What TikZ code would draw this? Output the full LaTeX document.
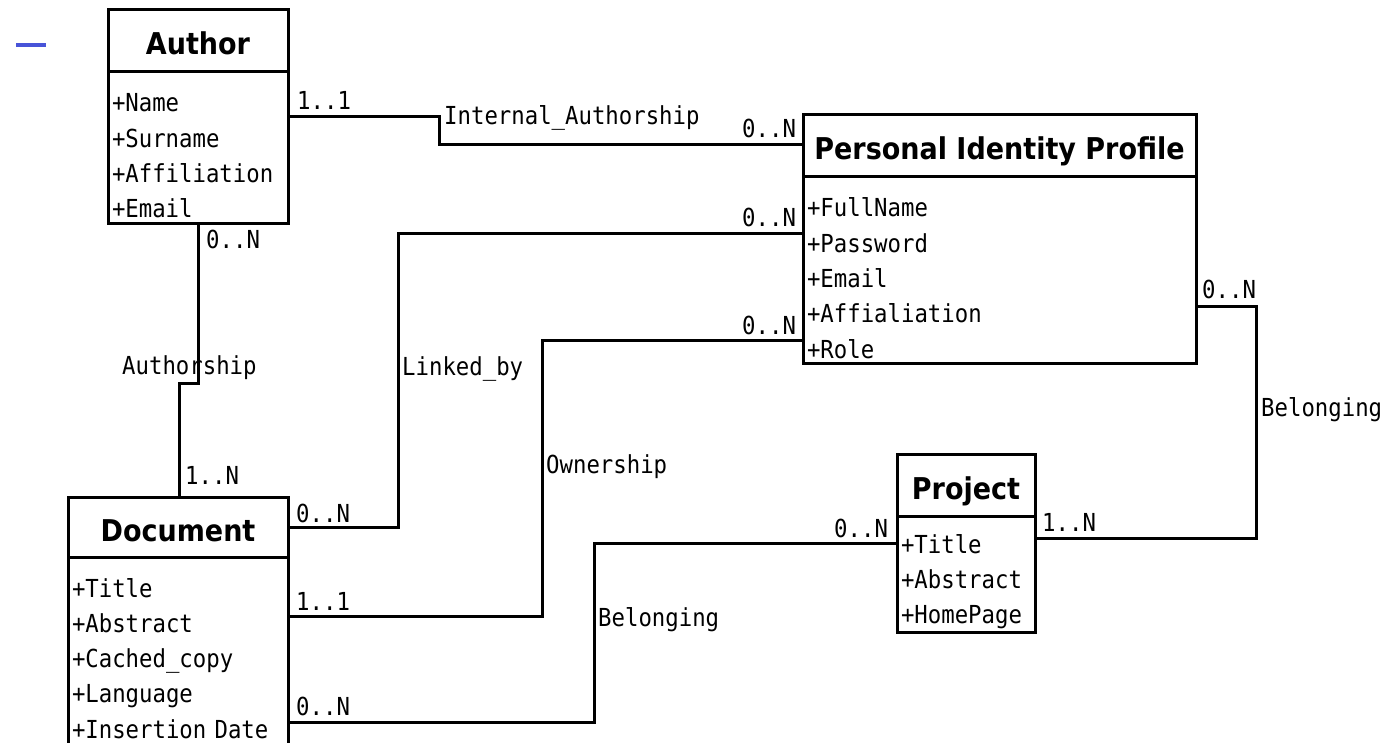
\documentclass[tikz,border=0pt]{standalone}
\usepackage{fontspec}
\setmainfont[FakeStretch=0.9]{DejaVu Sans}
\setmonofont[FakeStretch=0.9]{DejaVu Sans Mono}
\usetikzlibrary{positioning}
\definecolor{markblue}{RGB}{72,84,216}

\begin{document}
\begin{tikzpicture}[
    x=1pt, y=-1pt,
    node distance=0pt,
    cname/.style={
      draw,
      line width=3pt,
      outer sep=0pt,
      inner sep=0pt,
      anchor=north west,
      minimum height=62pt,
      text height=28pt,
      text depth=0pt,
      font=\fontsize{30}{34}\selectfont\bfseries
    },
    cattr/.style={
      draw,
      line width=3pt,
      outer sep=0pt,
      inner xsep=4pt,
      inner ysep=0pt,
      align=left,
      text height=40pt,
      font=\fontsize{24.8}{35.3}\selectfont\ttfamily
    },
    rel/.style={draw, line width=3pt},
    lbl/.style={
      anchor=base west,
      inner sep=0pt,
      font=\fontsize{24.8}{28}\selectfont\ttfamily
    }]

    \useasboundingbox (0,0) rectangle (1396,743);

    % Stray mark in the corner.
    \draw[markblue, line width=3.5pt] (16,45) -- (46,45);

    % Draw the classes.
    \node[cname, minimum width=180pt] (author) at (108,10) {Author};
    \node[cattr, below=of author, text width=172pt, text depth=112pt]
      (authorattr) {+Name\\+Surname\\+Affiliation\\+Email};

    \node[cname, minimum width=220pt, minimum height=60pt] (document)
      at (68,497) {Document};
    \node[cattr, below=of document, text width=212pt, text depth=148pt]
      (documentattr)
      {+Title\\+Abstract\\+Cached\_copy\\+Language\\+Insertion Date};

    \node[cname, minimum width=393pt] (pip) at (803,115)
      {Personal Identity Profile};
    \node[cattr, below=of pip, text width=385pt, text depth=146pt]
      (pipattr)
      {+FullName\\+Password\\+Email\\+Affialiation\\+Role};

    \node[cname, minimum width=138pt] (project) at (897,454) {Project};
    \node[cattr, below=of project, text width=130pt, text height=37pt,
      text depth=79pt] (projectattr) {+Title\\+Abstract\\+HomePage};

    % Draw the relations.
    \draw[rel] ([yshift=-45pt] authorattr.north east) -- ++(151,0)
      |- ([yshift=-30pt] pip.north west);
    \draw[rel] ([xshift=90pt] authorattr.south west) -- ++(0,159)
      -| ([xshift=111pt] document.north west);
    \draw[rel] ([yshift=-30pt] document.north east) -- ++(110,0)
      |- ([yshift=-57pt] pipattr.north west);
    \draw[rel] ([yshift=-59pt] documentattr.north east) -- ++(254,0)
      |- ([yshift=-163pt] pipattr.north west);
    \draw[rel] ([yshift=-165pt] documentattr.north east) -- ++(306,0)
      |- ([yshift=-27pt] projectattr.north west);
    \draw[rel] ([yshift=-129pt] pipattr.north east) -- ++(60,0)
      |- ([yshift=-22pt] projectattr.north east);

    % Relation names.
    \node[lbl] (intauth) at (444,125) {Internal\_Authorship};
    \node[lbl] (authship) at (122,374) {Authorship};
    \node[lbl] (linked) at (402,375) {Linked\_by};
    \node[lbl] (owner) at (546,473) {Ownership};
    \node[lbl] (belongdoc) at (598,626) {Belonging};
    \node[lbl] (belongpip) at (1261,416) {Belonging};

    % Multiplicities.
    \node[lbl] (mauthint) at (297,110) {1..1};
    \node[lbl] (mpipint) at (742,138) {0..N};
    \node[lbl] (mauthdoc) at (206,248) {0..N};
    \node[lbl] (mdocauth) at (185,484) {1..N};
    \node[lbl] (mdoclink) at (296,522) {0..N};
    \node[lbl] (mpiplink) at (742,227) {0..N};
    \node[lbl] (mdocown) at (296,610) {1..1};
    \node[lbl] (mpipown) at (742,334) {0..N};
    \node[lbl] (mdocbel) at (296,715) {0..N};
    \node[lbl] (mprojdoc) at (834,537) {0..N};
    \node[lbl] (mpipbel) at (1202,298) {0..N};
    \node[lbl] (mprojpip) at (1042,531) {1..N};

  \end{tikzpicture}
\end{document}
